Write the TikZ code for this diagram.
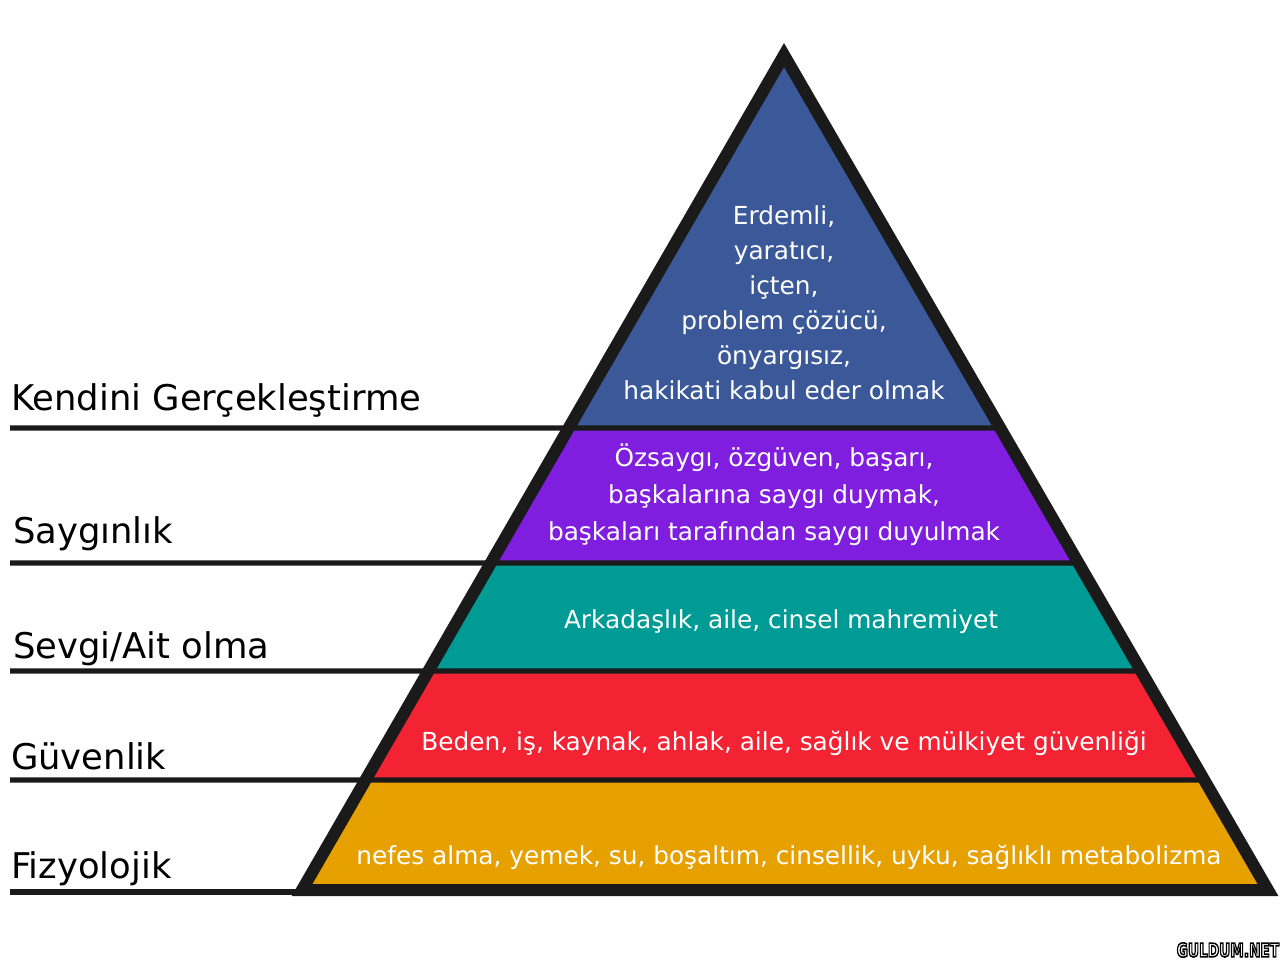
\documentclass[tikz,border=0pt]{standalone}
\usepackage{fontspec}
\setmainfont{DejaVu Sans}
\usepackage{tikz}
\usetikzlibrary{calc}

\definecolor{tierblue}{RGB}{59,89,152}
\definecolor{tierpurple}{RGB}{128,30,224}
\definecolor{tierteal}{RGB}{0,155,149}
\definecolor{tierred}{RGB}{244,35,52}
\definecolor{tiergold}{RGB}{230,160,0}
\definecolor{edge}{RGB}{26,26,26}

\tikzset{
  sepline/.style={draw=edge, line width=2.6pt},
  levellabel/.style={anchor=west, text=black, font=\fontsize{17.7}{20}\selectfont},
  tiertext/.style={text=white, align=center, font=\fontsize{12.4}{17.5}\selectfont},
}

\begin{document}
\begin{tikzpicture}[x=0.5pt,y=-0.5pt]
	\useasboundingbox (0,0) rectangle (1280,960);
	\coordinate (T) at (784,55);
	\coordinate (L) at (302,890);
	\coordinate (R) at (1268,890);

	% tiers
	\begin{scope}
		\clip (T) -- (L) -- (R) -- cycle;
		\fill[tierblue] (0,0) rectangle (1280,428);
		\fill[tierpurple] (0,428) rectangle (1280,563);
		\fill[tierteal] (0,563) rectangle (1280,671);
		\fill[tierred] (0,671) rectangle (1280,780);
		\fill[tiergold] (0,780) rectangle (1280,895);
	\end{scope}

	% separators
	\foreach \y in {428,563,671,780} {
		\pgfmathsetmacro{\t}{(\y-55)/835}
		\coordinate (s\y) at (10,\y);
		\coordinate (e\y) at ($(T)!\t!(R)$);
		\draw[sepline] (s\y) -- (e\y);
	}
	\coordinate (s892) at (10,892);
	\coordinate (e892) at (300,892);
	\draw[sepline] (s892) -- (e892);

	\draw[draw=edge, line width=6pt, line join=miter] (T) -- (L) -- (R) -- cycle;

	% level names
	\node[levellabel] (kendini) at (4,400) {Kendini Gerçekleştirme};
	\node[levellabel] (saygi) at (6,534) {Saygınlık};
	\node[levellabel] (sevgi) at (6,649) {Sevgi/Ait olma};
	\node[levellabel] (guven) at (4,756) {Güvenlik};
	\node[levellabel] (fizyo) at (4,869) {Fizyolojik};

	% tier contents
	\node[tiertext] (blue) at (784,303) {Erdemli,\\yaratıcı,\\içten,\\problem çözücü,\\önyargısız,\\hakikati kabul eder olmak};
	\node[tiertext, font=\fontsize{12.4}{18.5}\selectfont] (purple) at (774,495) {Özsaygı, özgüven, başarı,\\başkalarına saygı duymak,\\başkaları tarafından saygı duyulmak};
	\node[tiertext] (teal) at (781,622) {Arkadaşlık, aile, cinsel mahremiyet};
	\node[tiertext] (red) at (784,743) {Beden, iş, kaynak, ahlak, aile, sağlık ve mülkiyet güvenliği};
	\node[tiertext] (gold) at (789,857) {nefes alma, yemek, su, boşaltım, cinsellik, uyku, sağlıklı metabolizma};

	% watermark
	\node[text=white, font=\fontsize{9.5}{9.5}\bfseries, xscale=0.72] (wm) at (1228,950)
		{\special{pdf:literal 2 Tr 0.8 w 0 0 0 RG}GULDUM.NET\special{pdf:literal 0 Tr}};
\end{tikzpicture}
\end{document}
